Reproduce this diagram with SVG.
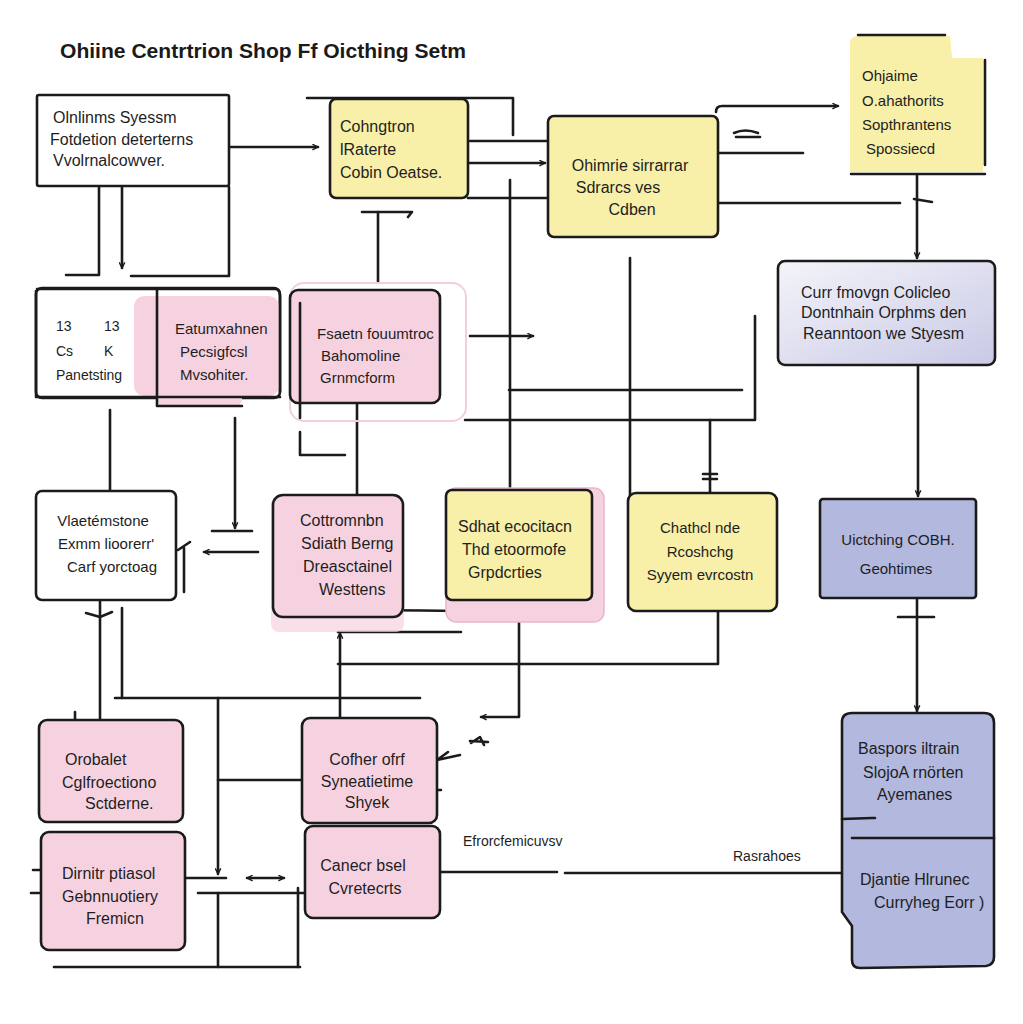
<svg xmlns="http://www.w3.org/2000/svg" width="1023" height="1024" viewBox="0 0 1023 1024">
<defs>
<style>
.bx{stroke:#1b1b1b;stroke-width:2.6;stroke-linejoin:round}
.w{fill:#ffffff}
.y{fill:#f8efa8}
.p{fill:#f6d2e1}
.l{fill:#b2b8de}
.c{fill:none;stroke:#1b1b1b;stroke-width:2.6;stroke-linecap:round;stroke-linejoin:round}
.t{font-family:"Liberation Sans",Arial,sans-serif;font-size:16px;fill:#1e1e1e}
.s{font-size:15px}
.xs{font-size:14px}
.m{text-anchor:middle}
</style>
<linearGradient id="lg" x1="0" y1="0" x2="1" y2="1">
<stop offset="0" stop-color="#f4f4fa"/>
<stop offset="1" stop-color="#c9c9e6"/>
</linearGradient>
<marker id="ah" viewBox="0 0 10 10" refX="9" refY="5" markerWidth="7" markerHeight="7" orient="auto-start-reverse" markerUnits="userSpaceOnUse">
<path d="M1,1 L9,5 L1,9" fill="none" stroke="#1b1b1b" stroke-width="2"/>
</marker>
</defs>
<rect width="1023" height="1024" fill="#ffffff"/>
<text x="60" y="58" font-family="Liberation Sans,Arial,sans-serif" font-weight="bold" font-size="20" fill="#1a1a1a" textLength="406" lengthAdjust="spacingAndGlyphs">Ohiine Centrtrion Shop Ff Oicthing  Setm</text>

<g id="connectors">
<path class="c" d="M229,147 H318" marker-end="url(#ah)"/>
<path class="c" d="M99,187 V275 H66"/>
<path class="c" d="M122,187 V268" marker-end="url(#ah)"/>
<path class="c" d="M131,276 H229 V187"/>
<path class="c" d="M307,98 H513 V135"/>
<path class="c" d="M470,141 H548"/>
<path class="c" d="M466,163 H545" marker-end="url(#ah)"/>
<path class="c" d="M468,198 H548"/>
<path class="c" d="M362,212 H412 L408,217"/>
<path class="c" d="M378,212 V282"/>
<path class="c" d="M716,112 Q716,106 722,106 H838" marker-end="url(#ah)"/>
<path class="c" d="M734,133 Q745,128 758,133"/>
<path class="c" d="M736,137 H760"/>
<path class="c" d="M713,153 H803"/>
<path class="c" d="M718,203 H900"/>
<path class="c" d="M917,175 V258" marker-end="url(#ah)"/>
<path class="c" d="M914,199 L932,202"/>
<path class="c" d="M510,180 V492"/>
<path class="c" d="M503,490 H517"/>
<path class="c" d="M470,336 H533" marker-end="url(#ah)"/>
<path class="c" d="M630,258 V500"/>
<path class="c" d="M509,390 H742"/>
<path class="c" d="M465,420 H755 V316"/>
<path class="c" d="M710,420 V492"/>
<path class="c" d="M703,474 H717 M703,479 H717"/>
<path class="c" d="M357,402 V495"/>
<path class="c" d="M300,432 V455 H345"/>
<path class="c" d="M918,365 V496" marker-end="url(#ah)"/>
<path class="c" d="M917,598 V711" marker-end="url(#ah)"/>
<path class="c" d="M898,617 H934"/>
<path class="c" d="M110,410 V490"/>
<path class="c" d="M235,418 V528" marker-end="url(#ah)"/>
<path class="c" d="M212,531 H252"/>
<path class="c" d="M258,552 H204" marker-end="url(#ah)"/>
<path class="c" d="M178,550 L190,542 M184,548 V592"/>
<path class="c" d="M100,600 V720"/>
<path class="c" d="M86,613 L100,617 L112,612"/>
<path class="c" d="M122,608 V698"/>
<path class="c" d="M115,698 H420"/>
<path class="c" d="M218,698 V874" marker-end="url(#ah)"/>
<path class="c" d="M218,780 H302"/>
<path class="c" d="M75,712 V726"/>
<path class="c" d="M288,612 Q370,609 457,611"/>
<path class="c" d="M338,632 H461"/>
<path class="c" d="M340,718 V633" marker-end="url(#ah)"/>
<path class="c" d="M338,664 H718 V611"/>
<path class="c" d="M519,612 V717 H481" marker-end="url(#ah)"/>
<path class="c" d="M471,743 L480,737 L484,745 M470,741 L488,742"/>
<path class="c" d="M437,760 L448,752 M437,760 L460,755"/>
<path class="c" d="M437,790 H441"/>
<path class="c" d="M182,878 H226"/>
<path class="c" d="M247,878 H284" marker-start="url(#ah)" marker-end="url(#ah)"/>
<path class="c" d="M198,893 H305"/>
<path class="c" d="M218,893 V967"/>
<path class="c" d="M298,888 V967"/>
<path class="c" d="M54,967 H300"/>
<path class="c" d="M33,870 H43 M31,893 H43"/>
<path class="c" d="M440,872 H557"/>
<path class="c" d="M565,873 H843"/>
</g>

<g id="n1">
<rect class="bx w" x="37" y="95" width="192" height="91" rx="2"/>
<text class="t" x="53" y="123">Olnlinms Syessm</text>
<text class="t" x="50" y="145">Fotdetion deterterns</text>
<text class="t" x="53" y="166">Vvolrnalcowver.</text>
</g>

<g id="n2">
<rect class="bx y" x="330" y="99" width="138" height="99" rx="6"/>
<text class="t" x="340" y="132">Cohngtron</text>
<text class="t" x="340" y="155">lRaterte</text>
<text class="t" x="340" y="178">Cobin Oeatse.</text>
</g>

<g id="n3">
<rect class="bx y" x="548" y="116" width="170" height="121" rx="6"/>
<text class="t m" x="630" y="171">Ohimrie sirrarrar</text>
<text class="t m" x="618" y="193">Sdrarcs ves</text>
<text class="t m" x="632" y="215">Cdben</text>
</g>

<g id="n4">
<path class="y" d="M858,36 H950 L952,58 H983 V172 H850 V44 Q850,36 858,36 Z"/>
<path class="c" d="M858,35 H945 M985,60 V165 M851,174 H985"/>
<text class="t s" x="862" y="81">Ohjaime</text>
<text class="t s" x="862" y="106">O.ahathorits</text>
<text class="t s" x="862" y="130">Sopthrantens</text>
<text class="t s" x="866" y="154">Spossiecd</text>
</g>

<g id="n5">
<rect class="bx w" x="36" y="288" width="244" height="110" rx="6"/>
<rect class="p" x="134" y="296" width="145" height="100" rx="10"/>
<rect class="p" x="157" y="384" width="85" height="22" rx="6"/>
<path class="c" d="M36,291 V396 M36,397 H280 M37,289 H275 Q280,289 280,296 V392"/>
<path class="c" d="M157,290 V406 H242"/>
<text class="t xs" x="56" y="331">13</text>
<text class="t xs" x="104" y="331">13</text>
<text class="t xs" x="56" y="356">Cs</text>
<text class="t xs" x="104" y="356">K</text>
<text class="t xs" x="56" y="380">Panetsting</text>
<text class="t s" x="175" y="334">Eatumxahnen</text>
<text class="t s" x="180" y="357">Pecsigfcsl</text>
<text class="t s" x="180" y="380">Mvsohiter.</text>
</g>

<g id="n6">
<rect x="290" y="283" width="176" height="138" rx="14" fill="none" stroke="#f2cfe0" stroke-width="2"/>
<rect class="bx p" x="290" y="290" width="150" height="113" rx="8"/>
<path class="c" d="M300,303 V418"/>
<text class="t s" x="317" y="339">Fsaetn fouumtroc</text>
<text class="t s" x="321" y="361">Bahomoline</text>
<text class="t s" x="320" y="383">Grnmcform</text>
</g>

<g id="n7">
<rect class="bx" x="778" y="261" width="217" height="104" rx="7" fill="url(#lg)"/>
<text class="t" x="801" y="298">Curr fmovgn  Colicleo</text>
<text class="t" x="801" y="318">Dontnhain Orphms den</text>
<text class="t" x="803" y="339">Reanntoon we Styesm</text>
</g>

<g id="n8">
<rect class="bx w" x="36" y="491" width="140" height="109" rx="6"/>
<text class="t s m" x="103" y="526">Vlaetémstone</text>
<text class="t s m" x="106" y="549">Exmm lioorerr'</text>
<text class="t s m" x="112" y="572">Carf yorctoag</text>
</g>

<g id="n9">
<rect x="271" y="496" width="133" height="136" rx="8" fill="#f6d2e1" opacity="0.7"/>
<rect class="bx p" x="273" y="495" width="130" height="122" rx="10"/>
<text class="t" x="300" y="526">Cottromnbn</text>
<text class="t" x="301" y="549">Sdiath Berng</text>
<text class="t" x="303" y="572">Dreasctainel</text>
<text class="t" x="319" y="595">Westtens</text>
</g>

<g id="n10">
<rect x="446" y="488" width="158" height="134" rx="10" fill="#f6d2e1" stroke="#e9b6cc" stroke-width="1.5"/>
<rect class="bx y" x="446" y="490" width="146" height="110" rx="6"/>
<text class="t" x="458" y="532">Sdhat ecocitacn</text>
<text class="t" x="462" y="555">Thd etoormofe</text>
<text class="t" x="468" y="578">Grpdcrties</text>
</g>

<g id="n11">
<rect class="bx y" x="628" y="493" width="149" height="118" rx="8"/>
<text class="t s m" x="700" y="533">Chathcl nde</text>
<text class="t s m" x="700" y="557">Rcoshchg</text>
<text class="t s m" x="700" y="580">Syyem evrcostn</text>
</g>

<g id="n12">
<rect class="bx l" x="820" y="499" width="156" height="99" rx="3"/>
<text class="t s m" x="898" y="545">Uictching COBH.</text>
<text class="t s m" x="896" y="574">Geohtimes</text>
</g>

<g id="n13">
<rect class="bx p" x="39" y="720" width="144" height="102" rx="8"/>
<text class="t" x="65" y="765">Orobalet</text>
<text class="t" x="62" y="788">Cglfroectiono</text>
<text class="t" x="85" y="809">Sctderne.</text>
</g>

<g id="n14">
<rect class="bx p" x="41" y="832" width="144" height="118" rx="8"/>
<text class="t" x="62" y="879">Dirnitr ptiasol</text>
<text class="t" x="62" y="902">Gebnnuotiery</text>
<text class="t" x="86" y="924">Fremicn</text>
</g>

<g id="n15">
<rect class="bx p" x="302" y="718" width="135" height="105" rx="8"/>
<text class="t m" x="367" y="765">Cofher ofrf</text>
<text class="t m" x="367" y="787">Syneatietime</text>
<text class="t m" x="367" y="808">Shyek</text>
</g>

<g id="n16">
<rect class="bx p" x="305" y="826" width="135" height="92" rx="8"/>
<text class="t m" x="363" y="871">Canecr bsel</text>
<text class="t m" x="365" y="894">Cvretecrts</text>
</g>

<g id="n17">
<path class="bx l" d="M852,713 H984 Q994,713 994,723 V957 Q994,965 986,966 L860,968 Q852,968 852,960 V926 L842,912 V722 Q842,713 852,713 Z"/>
<path class="c" d="M842,819 L872,818 H875"/>
<path class="c" d="M852,838 H994"/>
<text class="t" x="858" y="754">Baspors iltrain</text>
<text class="t" x="863" y="778">SlojoA rnörten</text>
<text class="t" x="877" y="800">Ayemanes</text>
<text class="t" x="860" y="885">Djantie Hlrunec</text>
<text class="t" x="874" y="908">Curryheg Eorr )</text>
</g>

<g id="labels">
<text class="t xs" x="463" y="846">Efrorcfemicuvsv</text>
<text class="t xs" x="733" y="861">Rasrahoes</text>
</g>
</svg>
